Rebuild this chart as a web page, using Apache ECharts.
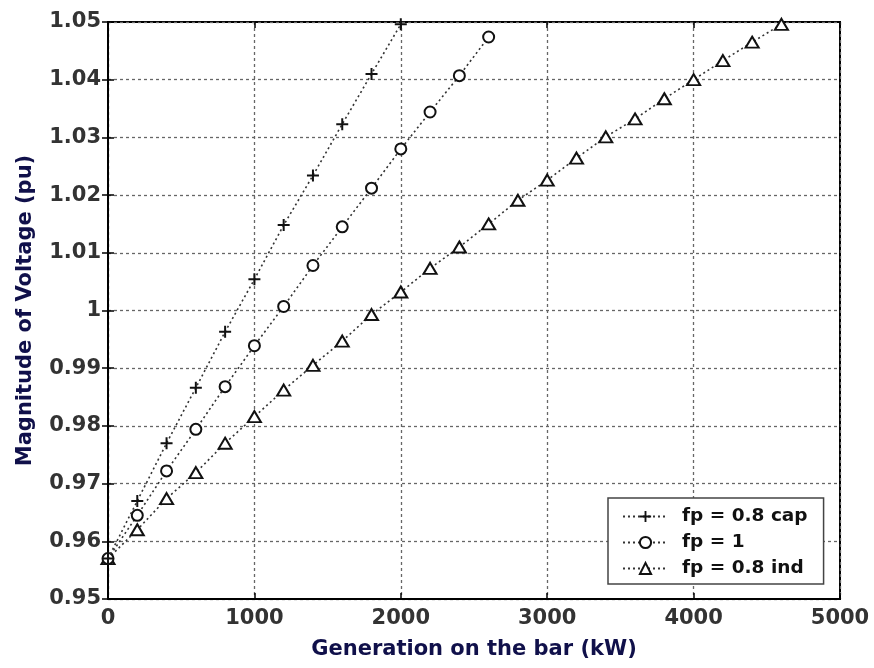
<!DOCTYPE html>
<html>
<head>
<meta charset="utf-8">
<script src="https://cdn.jsdelivr.net/npm/echarts@6/dist/echarts.min.js"></script>
<style>
  html, body { margin: 0; padding: 0; background: #fff; }
  #chart { width: 874px; height: 668px; }
</style>
</head>
<body>
<div id="chart"></div>
<script>
// generation (kW) and voltage (pu)
const capKW = [0, 200, 400, 600, 800, 1000, 1200, 1400, 1600, 1800, 2000]
const capV = [0.957, 0.967, 0.977, 0.9866, 0.9963, 1.0054, 1.0148, 1.0234, 1.0323, 1.041, 1.0496]

const unityKW = [0, 200, 400, 600, 800, 1000, 1200, 1400, 1600, 1800, 2000, 2200, 2400, 2600]
const unityV = [0.957, 0.9645, 0.9722, 0.9794, 0.9868, 0.9939, 1.0007, 1.0078, 1.0145, 1.0212, 1.028, 1.0344, 1.0407, 1.0474]

const indKW = [0, 200, 400, 600, 800, 1000, 1200, 1400, 1600, 1800, 2000, 2200, 2400, 2600, 2800, 3000, 3200, 3400, 3600, 3800, 4000, 4200, 4400, 4600]
const indV = [0.957, 0.962, 0.9674, 0.9719, 0.977, 0.9816, 0.9862, 0.9905, 0.9947, 0.9993, 1.0032, 1.0073, 1.011, 1.015, 1.0191, 1.0226, 1.0264, 1.0301, 1.0332, 1.0367, 1.04, 1.0433, 1.0465, 1.0496]

const seriesNames = ['fp = 0.8 cap', 'fp = 1', 'fp = 0.8 ind']
const xTicks = [0, 1000, 2000, 3000, 4000, 5000]
const yTicks = [0.95, 0.96, 0.97, 0.98, 0.99, 1, 1.01, 1.02, 1.03, 1.04, 1.05]

const pair = (xs, ys) => xs.map((x, i) => [x, ys[i]])
const plusPath = 'path://M5,0H7V5H12V7H7V12H5V7H0V5H5Z'
const tickFont = { fontFamily: 'DejaVu Sans', fontWeight: 'bold', fontSize: 21, color: '#333' }
const titleFont = { fontFamily: 'DejaVu Sans', fontWeight: 'bold', fontSize: 21, color: '#10104a' }
const innerTick = { show: true, inside: true, length: 6, lineStyle: { color: '#000', width: 1.5 } }
const gridLine = { show: true, lineStyle: { color: '#666', width: 1.3, type: [3, 3] } }
const dotted = { color: '#333', width: 1.6, type: [2, 3] }

const chart = echarts.init(document.getElementById('chart'))
chart.setOption({
  backgroundColor: '#fff',
  animation: false,
  grid: { left: 108, right: 34, top: 22, bottom: 69, show: true, borderColor: '#000', borderWidth: 2 },
  legend: {
    orient: 'vertical',
    left: 608,
    top: 498,
    padding: [9, 16, 6, 14],
    itemWidth: 45,
    itemHeight: 14,
    itemGap: 7,
    backgroundColor: '#fff',
    borderColor: '#444',
    borderWidth: 1.5,
    borderRadius: 0,
    textStyle: {
      fontFamily: 'DejaVu Sans', fontWeight: 'bold', fontSize: 18.5,
      color: '#111', padding: [0, 0, 0, 9]
    },
    data: seriesNames
  },
  xAxis: [
    {
      type: 'value',
      min: xTicks[0],
      max: xTicks[xTicks.length - 1],
      interval: xTicks[1] - xTicks[0],
      name: 'Generation on the bar (kW)',
      nameLocation: 'middle',
      nameGap: 40,
      nameTextStyle: titleFont,
      axisLine: { show: true, lineStyle: { color: '#000', width: 2 } },
      axisTick: innerTick,
      axisLabel: { ...tickFont, margin: 9, formatter: (v) => String(v) },
      splitLine: gridLine
    },
    {
      type: 'value',
      position: 'top',
      min: xTicks[0],
      max: xTicks[xTicks.length - 1],
      interval: xTicks[1] - xTicks[0],
      axisLine: { show: false },
      axisTick: innerTick,
      axisLabel: { show: false },
      splitLine: { show: false }
    }
  ],
  yAxis: [
    {
      type: 'value',
      min: yTicks[0],
      max: yTicks[yTicks.length - 1],
      interval: 0.01,
      name: 'Magnitude of Voltage (pu)',
      nameLocation: 'middle',
      nameGap: 72,
      nameTextStyle: titleFont,
      axisLine: { show: true, lineStyle: { color: '#000', width: 2 } },
      axisTick: innerTick,
      axisLabel: {
        ...tickFont,
        margin: 7,
        formatter: (v) => String(parseFloat(v.toFixed(2)))
      },
      splitLine: gridLine
    },
    {
      type: 'value',
      position: 'right',
      min: yTicks[0],
      max: yTicks[yTicks.length - 1],
      interval: 0.01,
      axisLine: { show: false },
      axisTick: innerTick,
      axisLabel: { show: false },
      splitLine: { show: false }
    }
  ],
  series: [
    {
      name: seriesNames[0],
      type: 'line',
      data: pair(capKW, capV),
      symbol: plusPath,
      symbolSize: 12,
      lineStyle: dotted,
      itemStyle: { color: '#111', borderWidth: 0 },
      z: 5
    },
    {
      name: seriesNames[1],
      type: 'line',
      data: pair(unityKW, unityV),
      symbol: 'circle',
      symbolSize: 11,
      lineStyle: dotted,
      itemStyle: { color: '#fff', borderColor: '#111', borderWidth: 2 },
      z: 4
    },
    {
      name: seriesNames[2],
      type: 'line',
      data: pair(indKW, indV),
      symbol: 'triangle',
      symbolSize: [13, 11],
      lineStyle: dotted,
      itemStyle: { color: '#fff', borderColor: '#111', borderWidth: 2 },
      z: 3
    }
  ]
})
</script>
</body>
</html>
